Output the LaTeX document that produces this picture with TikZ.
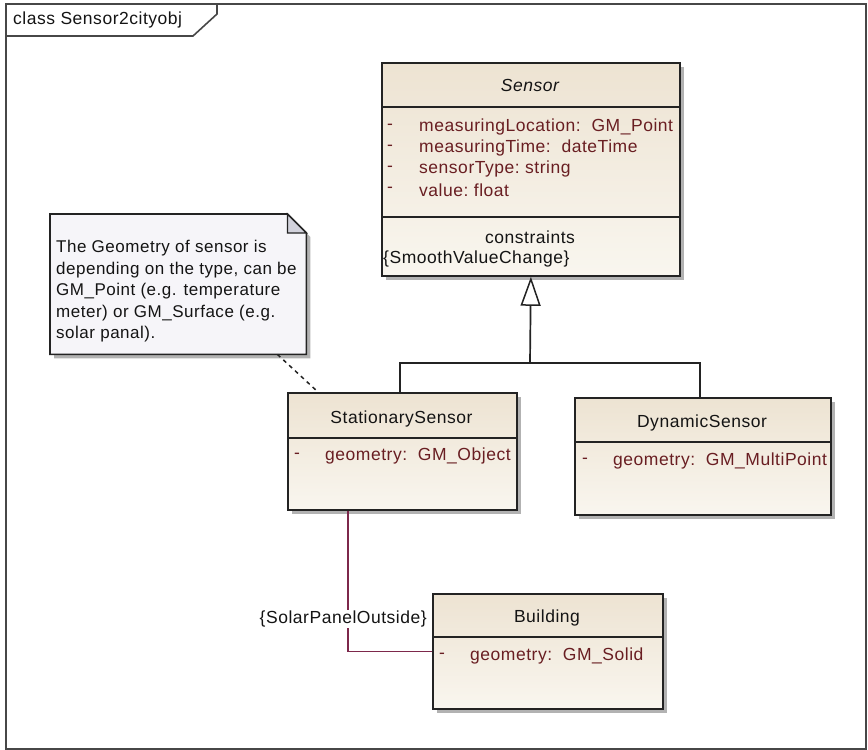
\documentclass[tikz,border=0pt]{standalone}
\usepackage{fontspec}
\setmainfont{Liberation Sans}[LetterSpace=3]
\usetikzlibrary{shadows,calc,arrows.meta}
\definecolor{attr}{RGB}{105,30,34}
\definecolor{boxtop}{RGB}{237,227,210}
\definecolor{boxbot}{RGB}{249,246,239}
\definecolor{edge}{RGB}{35,35,35}
\definecolor{assoc}{RGB}{125,40,75}
\definecolor{notefill}{RGB}{246,245,249}
\definecolor{foldfill}{RGB}{210,210,220}
\definecolor{txt}{RGB}{20,20,20}
\begin{document}
\begin{tikzpicture}[x=1pt,y=-1pt,
  font=\fontsize{17.5}{21}\selectfont,
  classbox/.style={draw=edge, line width=1.8pt, top color=boxtop, bottom color=boxbot,
    anchor=north west, inner sep=0pt,
    drop shadow={shadow xshift=4pt, shadow yshift=-4pt, opacity=0.3, fill=black}},
  divider/.style={draw=edge, line width=1.6pt},
  cname/.style={text=txt, inner sep=0pt},
  attrtext/.style={text=attr, anchor=west, inner sep=0pt},
  attrdash/.style={text=attr, inner sep=0pt},
  conn/.style={draw=edge, line width=1.7pt},
  assocline/.style={draw=assoc, line width=1.8pt},
  framestyle/.style={draw=black!72, line width=2pt}
]
\useasboundingbox (0,0) rectangle (868,750);

% frame
\node[framestyle, minimum width=860, minimum height=745, anchor=north west, inner sep=0pt] (frame) at (5,3) {};
\draw[framestyle, line width=1.6pt] (5,36) -- (193,36) -- (217,14) -- (217,3);
\node[cname, anchor=west] (framelabel) at (13,20) {class Sensor2cityobj};

% Sensor
\node[classbox, minimum width=298, minimum height=213] (sensor) at (381,62) {};
\draw[divider] (381,107) -- (679,107);
\draw[divider] (381,217) -- (679,217);
\node[cname, font=\fontsize{17.5}{21}\selectfont\itshape] (sensorname) at (530,85) {Sensor};
\node[attrdash] (d1) at (390,127) {-};
\node[attrtext] (a1) at (419,127) {measuringLocation:\ \ GM\_Point};
\node[attrdash] (d2) at (390,148) {-};
\node[attrtext] (a2) at (419,148) {measuringTime:\ \ dateTime};
\node[attrdash] (d3) at (390,169) {-};
\node[attrtext] (a3) at (419,169) {sensorType:\ string};
\node[attrdash] (d4) at (390,190) {-};
\node[attrtext] (a4) at (419,190) {value:\ float};
\node[cname] (cons) at (530,237) {constraints};
\node[cname, anchor=west] (consv) at (383,259) {\{SmoothValueChange\}};

% StationarySensor
\node[classbox, minimum width=229, minimum height=117] (ss) at (287,392) {};
\draw[divider] (287,438) -- (516,438);
\node[cname] (ssname) at (401.5,419) {StationarySensor};
\node[attrdash] (ssd) at (297,456) {-};
\node[attrtext] (ssa) at (325,456) {geometry:\ \ GM\_Object};

% DynamicSensor
\node[classbox, minimum width=256, minimum height=117] (ds) at (574,397) {};
\draw[divider] (574,442) -- (830,442);
\node[cname] (dsname) at (702,423) {DynamicSensor};
\node[attrdash] (dsd) at (585,461) {-};
\node[attrtext] (dsa) at (613,461) {geometry:\ \ GM\_MultiPoint};

% Building
\node[classbox, minimum width=230, minimum height=115] (bld) at (432,593) {};
\draw[divider] (432,637) -- (662,637);
\node[cname] (bldname) at (547,618) {Building};
\node[attrdash] (bldd) at (442,656) {-};
\node[attrtext] (blda) at (470,656) {geometry:\ \ GM\_Solid};

% generalization
\coordinate (fork) at (530,363);
\draw[conn] ($(ss.north west)+(113,0)$) |- (fork) -| ($(ds.north west)+(126,0)$);
\draw[conn, -{Triangle[length=29pt, width=20pt, fill=white, line width=1.5pt]}] (fork) -- (sensor.south);

% association
\draw[assocline] ($(ss.south west)+(61,0)$) |- (bld.west);
\node[cname, fill=white, inner sep=1pt, anchor=east] (lbl) at (428,619) {\{SolarPanelOutside\}};

% note
\node[minimum width=256, minimum height=140, anchor=north west, inner sep=0pt] (note) at (50,214) {};
\path[draw=edge, line width=1.6pt, fill=notefill,
  drop shadow={shadow xshift=4pt, shadow yshift=-4pt, opacity=0.3, fill=black}]
  (note.north west) -- ($(note.north east)+(-19,0)$) -- ($(note.north east)+(0,19)$)
  -- (note.south east) -- (note.south west) -- cycle;
\draw[draw=edge, line width=1.3pt, fill=foldfill] ($(note.north east)+(-19,0)$) -- ($(note.north east)+(-19,19)$) -- ($(note.north east)+(0,19)$) -- cycle;
\node[cname, anchor=north west, align=left, font=\fontsize{17}{21.5}\selectfont] (notetext) at (56,240)
  {The Geometry of sensor is\\depending on the type, can be\\GM\_Point (e.g. temperature\\meter) or GM\_Surface (e.g.\\solar panal).};
\draw[conn, line width=1.5pt, dash pattern=on 4pt off 4pt] ($(note.south east)+(-29,0)$) -- ($(ss.north west)+(31,0)$);
\end{tikzpicture}
\end{document}
